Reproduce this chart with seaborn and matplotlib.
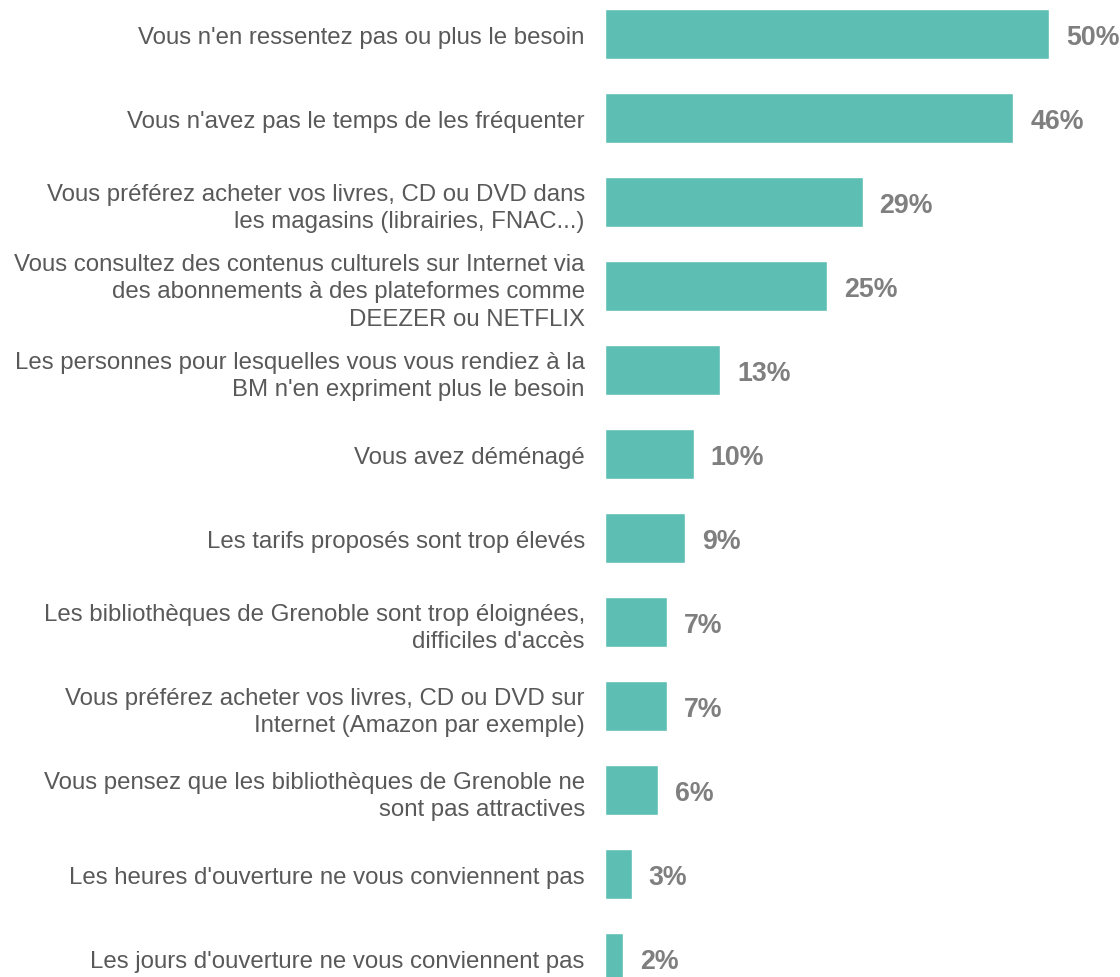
import pandas as pd
import seaborn as sns
import matplotlib.pyplot as plt

# Data
labels = [
    "Vous n'en ressentez pas ou plus le besoin",
    "Vous n'avez pas le temps de les fréquenter",
    "Vous préférez acheter vos livres, CD ou DVD dans\nles magasins (librairies, FNAC...)",
    "Vous consultez des contenus culturels sur Internet via\ndes abonnements à des plateformes comme\nDEEZER ou NETFLIX",
    "Les personnes pour lesquelles vous vous rendiez à la\nBM n'en expriment plus le besoin",
    "Vous avez déménagé",
    "Les tarifs proposés sont trop élevés",
    "Les bibliothèques de Grenoble sont trop éloignées,\ndifficiles d'accès",
    "Vous préférez acheter vos livres, CD ou DVD sur\nInternet (Amazon par exemple)",
    "Vous pensez que les bibliothèques de Grenoble ne\nsont pas attractives",
    "Les heures d'ouverture ne vous conviennent pas",
    "Les jours d'ouverture ne vous conviennent pas",
]
values = [50, 46, 29, 25, 13, 10, 9, 7, 7, 6, 3, 2]

df = pd.DataFrame({"raison": labels, "pct": values})

sns.set_style("white")
plt.rcParams['font.family'] = ['Liberation Sans', 'DejaVu Sans']

fig = plt.figure(figsize=(11.2, 9.78), dpi=100)
ax = fig.add_axes([605 / 1120, 0, 1 - 605 / 1120, 1])

sns.barplot(data=df, x="pct", y="raison", orient="h", color="#5DBEB4",
            saturation=1, width=0.59, ax=ax)

ax.set_xlim(0, 58)
ax.set_ylim(11.226, -0.4167)
ax.set_xlabel("")
ax.set_ylabel("")
ax.set_xticks([])
ax.tick_params(axis="y", length=0, pad=14.5, labelsize=17.3, labelcolor="#595959")
for t in ax.get_yticklabels():
    t.set_horizontalalignment("right")
    t.set_linespacing(1.33)
sns.despine(ax=ax, left=True, bottom=True)

for i, v in enumerate(values):
    ax.text(v + 1.9, i, f"{v}%", va="center_baseline", ha="left",
            fontsize=19.3, fontweight="bold", color="#7F7F7F")

fig.savefig("out.png", dpi=100)
